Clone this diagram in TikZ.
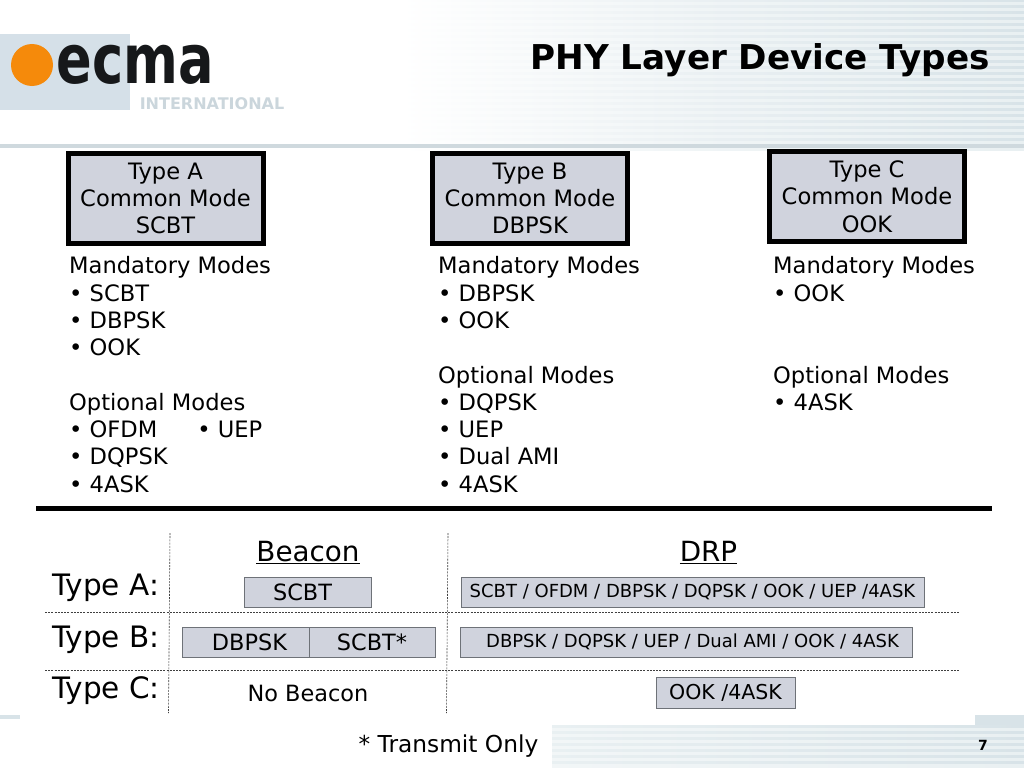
\documentclass[tikz,border=0pt]{standalone}
\usepackage{fontspec}
\setmainfont{DejaVu Sans}
\usetikzlibrary{positioning}
\definecolor{boxgray}{HTML}{D0D3DD}
\definecolor{boxedge}{HTML}{6E7278}
\definecolor{bandblue}{HTML}{D8E3E8}
\definecolor{bandpale}{HTML}{E9F0F2}
\definecolor{logoblue}{HTML}{D5E0E8}
\definecolor{logotext}{HTML}{CBD6DC}
\definecolor{ecmaorange}{HTML}{F58A0B}
\definecolor{ecmablack}{HTML}{16181A}
\tikzset{
  modebox/.style={draw=black,line width=5pt,fill=boxgray,minimum width=195pt,minimum height=90pt,inner sep=0pt,align=center,font=\fontsize{22.6}{27.3}\selectfont},
  modelist/.style={anchor=north west,inner sep=0pt,align=left,font=\fontsize{22.6}{27.3}\selectfont},
  cellbox/.style={draw=boxedge,line width=1pt,fill=boxgray,inner sep=0pt,outer sep=0pt,minimum height=30pt},
  rowlabel/.style={anchor=west,inner sep=0pt,font=\fontsize{29.5}{34}\selectfont},
  colhead/.style={inner sep=0pt,font=\fontsize{27.8}{32}\selectfont},
  griddash/.style={black!75,line width=.6pt,dash pattern=on 2pt off 1.2pt},
}
\begin{document}
\begin{tikzpicture}[line cap=butt,line join=miter,x=1pt,y=-1pt]
	\useasboundingbox (0,0) rectangle (1024,768);
	\fill [white] (0,0) rectangle (1024,768);
	\foreach \y in {0,6,...,144} {
		\shade [left color=white,right color=bandblue,middle color=bandblue!55] (400,\y) rectangle (1024,\y+3);
		\shade [left color=white,right color=bandpale,middle color=bandpale!70] (400,\y+3) rectangle (1024,\y+6);
	}
	\fill [bandblue!90!gray] (0,144) rectangle (1024,148);
	\foreach \y in {725,731,...,763} {
		\shade [left color=bandpale,right color=bandblue] (552,\y) rectangle (1024,\y+3);
		\shade [left color=bandpale!60,right color=bandpale] (552,\y+3) rectangle (1024,\y+6);
	}
	\fill [bandblue] (975,715) rectangle (1024,725);
	\fill [bandblue] (0,715) rectangle (20,719);
	\fill [logoblue] (0,34) rectangle (130,110);
	\fill [ecmaorange] (32,65) circle (21);
	\node (ecmaword) at (135,65) [inner sep=0pt,text=ecmablack,font=\fontsize{52.6}{54}\selectfont\bfseries] {\scalebox{1}[1.3]{ecma}};
	\node (ecmaintl) at (212,104) [inner sep=0pt,text=logotext,font=\fontsize{16}{16}\selectfont\bfseries] {INTERNATIONAL};
	\node (title) at (760,60) [inner sep=0pt,font=\fontsize{34.2}{40}\selectfont\bfseries] {PHY Layer Device Types};
	\node (pagenum) at (983,745) [inner sep=0pt,font=\fontsize{14}{14}\selectfont\bfseries] {7};
	\node (typea) at (165.5,198.5) [modebox] {Type A\\Common Mode\\SCBT};
	\node (typeb) at (530,198.5) [modebox] {Type B\\Common Mode\\DBPSK};
	\node (typec) at (867,196.5) [modebox] {Type C\\Common Mode\\OOK};
	\node (lista) at (69,256.5) [modelist] {Mandatory Modes\\• SCBT\\• DBPSK\\• OOK\\[27.3pt]Optional Modes\\• OFDM\hspace{40pt}• UEP\\• DQPSK\\• 4ASK};
	\node (listb) at (438,256.5) [modelist] {Mandatory Modes\\• DBPSK\\• OOK\\[27.3pt]Optional Modes\\• DQPSK\\• UEP\\• Dual AMI\\• 4ASK};
	\node (listc) at (773,256.5) [modelist] {Mandatory Modes\\• OOK\\[27.3pt]\\Optional Modes\\• 4ASK};
	\coordinate (ruleleft) at (36,508);
	\coordinate (ruleright) at (992,508);
	\draw [line width=5pt] (ruleleft) -- (ruleright);
	\coordinate (vonetop) at (170,533);
	\coordinate (vonebot) at (168.5,713);
	\coordinate (vtwotop) at (448,533);
	\coordinate (vtwobot) at (446.5,713);
	\coordinate (honeleft) at (45,612);
	\coordinate (honeright) at (960,612);
	\coordinate (htwoleft) at (45,670);
	\coordinate (htworight) at (960,670);
	\draw [griddash] (vonetop) -- (vonebot);
	\draw [griddash] (vtwotop) -- (vtwobot);
	\draw [griddash] (honeleft) -- (honeright);
	\draw [griddash] (htwoleft) -- (htworight);
	\node (beacon) at (308,552.5) [colhead] {\underline{Beacon}};
	\node (drp) at (708.5,552.5) [colhead] {\underline{DRP}};
	\node (rowa) at (52,587.5) [rowlabel] {Type A:};
	\node (rowb) at (52,639.5) [rowlabel] {Type B:};
	\node (rowc) at (52,690.5) [rowlabel] {Type C:};
	\node (beacona) at (307.5,592) [cellbox,minimum width=127pt,font=\fontsize{22.4}{26}\selectfont] {\hspace{-10pt}SCBT};
	\node (beaconb) at (245.5,642) [cellbox,minimum width=127pt,font=\fontsize{22.4}{26}\selectfont] {\hspace{8pt}DBPSK};
	\node (beaconbt) [cellbox,right=0pt of beaconb,minimum width=126pt,font=\fontsize{22.4}{26}\selectfont] {SCBT*};
	\node (beaconc) at (308,693) [inner sep=0pt,font=\fontsize{22.4}{26}\selectfont] {No Beacon};
	\node (drpa) at (692.5,592) [cellbox,minimum width=463pt,font=\fontsize{18}{22}\selectfont] {SCBT / OFDM / DBPSK / DQPSK / OOK / UEP /4ASK};
	\node (drpb) at (686,642) [cellbox,minimum width=452pt,font=\fontsize{18}{22}\selectfont] {\hspace{13pt}DBPSK / DQPSK / UEP / Dual AMI / OOK / 4ASK};
	\node (drpc) at (725.5,692.5) [cellbox,minimum width=139pt,minimum height=31pt,font=\fontsize{20.5}{24}\selectfont] {OOK /4ASK};
	\node (footnote) at (448.5,746.5) [inner sep=0pt,font=\fontsize{23.3}{27}\selectfont] {* Transmit Only};
\end{tikzpicture}
\end{document}
